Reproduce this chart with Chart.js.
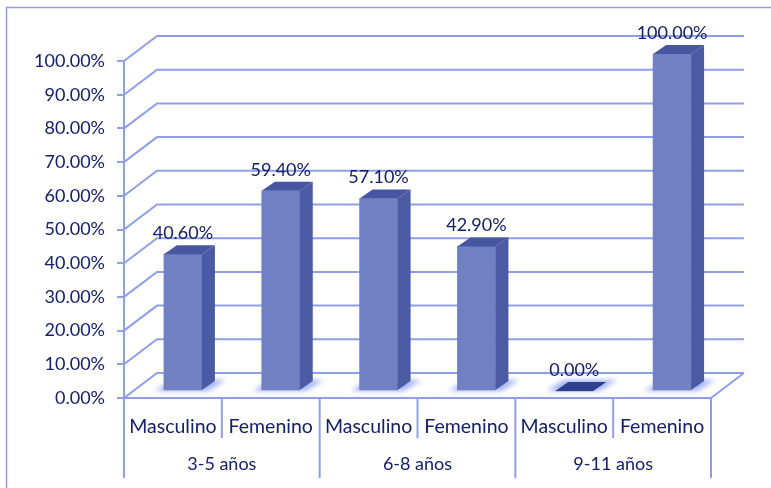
<!DOCTYPE html>
<html>
<head>
<meta charset="utf-8">
<script src="https://cdn.jsdelivr.net/npm/chart.js@4"></script>
<style>
	html, body { margin: 0; background: #fff; }
	canvas { display: block; filter: blur(0.4px); }
</style>
</head>
<body>
<canvas id="chart" width="771" height="488"></canvas>
<script>
const categories = ['Masculino', 'Femenino', 'Masculino', 'Femenino', 'Masculino', 'Femenino']
const groups = ['3-5 años', '6-8 años', '9-11 años']
const values = [40.6, 59.4, 57.1, 42.9, 0, 100]

const lineColor = '#8f9fe6'
const textColor = '#14206a'
const fontFamily = 'Lato, "Open Sans", sans-serif'

// the bars stand in the middle of the floor, the walls at the back of it
const wallDx = 33
const wallDy = -25
const barDx = 10
const barDy = -7
const depthDx = 13
const depthDy = -9

function poly(ctx, points, color) {
	ctx.fillStyle = color
	ctx.beginPath()
	points.forEach((p, i) => (i ? ctx.lineTo(p[0], p[1]) : ctx.moveTo(p[0], p[1])))
	ctx.closePath()
	ctx.fill()
}

const box3d = {
	id: 'box3d',
	beforeDatasetsDraw(chart) {
		const { ctx, scales, chartArea } = chart
		ctx.save()
		// outer frame
		ctx.strokeStyle = lineColor
		ctx.lineWidth = 1.5
		ctx.beginPath()
		ctx.moveTo(6.5, 488)
		ctx.lineTo(6.5, 7.5)
		ctx.lineTo(771, 7.5)
		ctx.stroke()

		// wall lines
		ctx.lineWidth = 2
		scales.y.ticks.forEach(t => {
			const y = scales.y.getPixelForValue(t.value)
			ctx.beginPath()
			ctx.moveTo(chartArea.left, y)
			ctx.lineTo(chartArea.left + wallDx, y + wallDy)
			ctx.lineTo(chartArea.right + wallDx, y + wallDy)
			ctx.stroke()
		})
		const base = scales.y.getPixelForValue(0)
		ctx.beginPath()
		ctx.moveTo(chartArea.right, base)
		ctx.lineTo(chartArea.right + wallDx, base + wallDy)
		ctx.stroke()

		// separators under the axis
		const step = (chartArea.right - chartArea.left) / categories.length
		categories.concat('').forEach((c, i) => {
			const x = chartArea.left + i * step
			ctx.beginPath()
			ctx.moveTo(x, base)
			ctx.lineTo(x, i % 2 ? base + 40 : base + 80)
			ctx.stroke()
		})

		// floor shadows
		const meta = chart.getDatasetMeta(0)
		ctx.filter = 'blur(2.5px)'
		meta.data.forEach(bar => {
			const half = bar.width / 2
			const x = bar.x + barDx
			const y = base + barDy
			poly(ctx, [
				[x - half - 9, y],
				[x + half + 6, y],
				[x + half + depthDx + 11, y - 11],
				[x - half + depthDx - 4, y - 11],
			], '#a3b2f4')
		})
		ctx.filter = 'none'
		ctx.restore()

		ctx.save()
		ctx.translate(barDx, barDy)
	},
	afterDatasetsDraw(chart) {
		const { ctx } = chart
		const meta = chart.getDatasetMeta(0)
		meta.data.forEach(bar => {
			const half = bar.width / 2
			const l = bar.x - half
			const r = bar.x + half
			poly(ctx, [[r, bar.y], [r + depthDx, bar.y + depthDy], [r + depthDx, bar.base + depthDy], [r, bar.base]], '#4a5ba3')
			const top = bar.y === bar.base ? '#2e3f8e' : '#4656a1'
			poly(ctx, [[l, bar.y], [l + depthDx, bar.y + depthDy], [r + depthDx, bar.y + depthDy], [r, bar.y]], top)
		})
		ctx.restore()

		ctx.save()
		ctx.fillStyle = textColor
		ctx.font = '18px ' + fontFamily
		ctx.textAlign = 'center'
		ctx.textBaseline = 'middle'
		meta.data.forEach((bar, i) => {
			ctx.fillText(values[i].toFixed(2) + '%', bar.x + barDx, bar.y + barDy - 21)
		})
		ctx.restore()
	},
}

new Chart(document.getElementById('chart'), {
	type: 'bar',
	data: {
		labels: categories,
		datasets: [
			{
				data: values,
				backgroundColor: '#7080c3',
				barThickness: 38,
				clip: false,
			},
		],
	},
	options: {
		responsive: false,
		animation: false,
		layout: { padding: { top: 61, right: 60 } },
		plugins: { legend: { display: false }, tooltip: { enabled: false } },
		scales: {
			y: {
				min: 0,
				max: 100,
				afterFit: s => { s.width = 124 },
				ticks: {
					stepSize: 10,
					padding: 12,
					color: textColor,
					font: { family: fontFamily, size: 18 },
					callback: v => v.toFixed(2) + '%',
				},
				grid: { drawOnChartArea: false, color: lineColor, lineWidth: 2, tickLength: 7 },
				border: { color: lineColor, width: 2 },
			},
			x: {
				weight: 1,
				afterFit: s => { s.height = 40 },
				ticks: {
					padding: 9,
					color: textColor,
					maxRotation: 0,
					autoSkip: false,
					font: { family: fontFamily, size: 19.5 },
				},
				grid: { display: false },
				border: { color: lineColor, width: 2 },
			},
			x2: {
				type: 'category',
				labels: groups,
				position: 'bottom',
				weight: 2,
				afterFit: s => { s.height = 50 },
				ticks: {
					padding: 7,
					color: textColor,
					font: { family: fontFamily, size: 18 },
				},
				grid: { display: false },
				border: { display: false },
			},
		},
	},
	plugins: [box3d],
})
</script>
</body>
</html>
